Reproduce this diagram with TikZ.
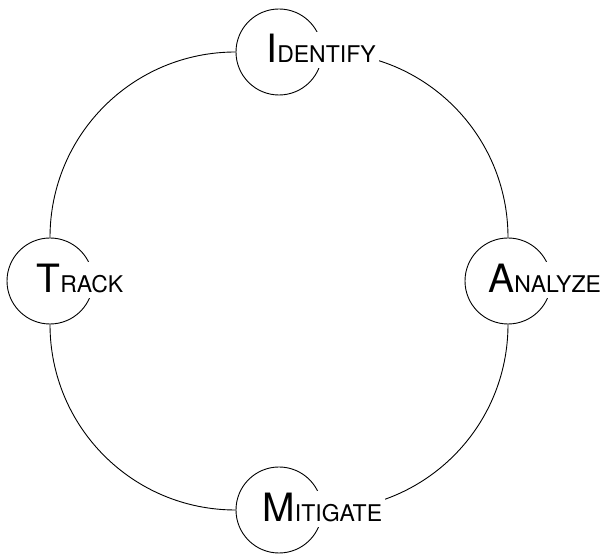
\documentclass[tikz,border=0pt]{standalone}
\usepackage{fontspec}
\setmainfont{TeX Gyre Heros}
\newcommand{\Cap}[2]{{\fontsize{39}{40}\selectfont #1}{\fontsize{23}{24}\selectfont #2}}
\begin{document}
\begin{tikzpicture}[x=1pt,y=1pt,line width=0.9pt,
  stage/.style={draw,circle,fill=white,minimum size=86pt,inner sep=0pt},
  lbl/.style={fill=white,inner xsep=3pt,inner ysep=3pt,text depth=2pt,anchor=base west}]
\useasboundingbox (0,0) rectangle (603,554);
\node[stage] (I) at (279,502) {};
\node[stage] (T) at (50,273) {};
\node[stage] (A) at (508,273) {};
\node[stage] (M) at (279,44) {};
\draw (I) to[out=180,in=90] (T);
\draw (T) to[out=-90,in=180] (M);
\draw (M) to[out=0,in=-90] (A);
\draw (A) to[out=90,in=0] (I);
\node[lbl] (Il) at (263,491) {\Cap{I}{DENTIFY}};
\node[lbl] (Tl) at (33,261) {\Cap{T}{RACK}};
\node[lbl] (Al) at (485,261) {\Cap{A}{NALYZE}};
\node[lbl] (Ml) at (259,32) {\Cap{M}{ITIGATE}};
\end{tikzpicture}
\end{document}
